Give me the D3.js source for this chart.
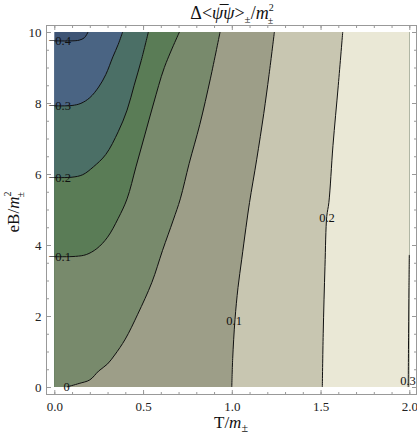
<!DOCTYPE html>
<html>
<head>
<meta charset="utf-8">
<script src="https://cdn.jsdelivr.net/npm/d3@7"></script>
<style>
  body { margin: 0; background: white; }
  text { font-family: "Liberation Serif", "DejaVu Serif", serif; }
</style>
</head>
<body>
<script>
let w = 417;
let h = 436;

// contour levels and the lines, as [T, eB]
let levels = [-0.4, -0.3, -0.2, -0.1, 0, 0.1, 0.2, 0.3];
let lineM04 = [[0, 9.75], [0.1, 9.75], [0.14, 9.77], [0.17, 9.84], [0.19, 10]];
let lineM03 = [[0, 7.92], [0.1, 7.93], [0.15, 7.99], [0.2, 8.15], [0.25, 8.45], [0.29, 8.8], [0.33, 9.3], [0.36, 9.65], [0.385, 10]];
let lineM02 = [[0, 5.9], [0.1, 5.91], [0.16, 5.98], [0.22, 6.2], [0.29, 6.55], [0.36, 7.19], [0.41, 7.8], [0.45, 8.5], [0.49, 9.2], [0.53, 10]];
let lineM01 = [[0, 3.67], [0.12, 3.68], [0.18, 3.73], [0.24, 3.9], [0.3, 4.22], [0.36, 4.75], [0.41, 5.3], [0.46, 6.2], [0.51, 7.1], [0.56, 8.0], [0.62, 9.0], [0.705, 10]];
let line00 = [[0.07, 0], [0.14, 0.1], [0.2, 0.2], [0.25, 0.45], [0.3, 0.65], [0.34, 0.9], [0.4, 1.35], [0.47, 2.05], [0.55, 2.95], [0.61, 3.85], [0.67, 4.7], [0.71, 5.3], [0.76, 6.3], [0.82, 7.4], [0.88, 8.7], [0.934, 10]];
let line01 = [[1.0, 0], [1.005, 0.8], [1.018, 1.9], [1.035, 2.8], [1.056, 3.6], [1.08, 4.5], [1.1, 5.2], [1.14, 6.4], [1.18, 7.7], [1.21, 8.8], [1.24, 10]];
let line02 = [[1.51, 0], [1.515, 1.5], [1.525, 3.4], [1.535, 4.8], [1.547, 5.2], [1.57, 6.8], [1.6, 8.5], [1.625, 10]];
let line03 = [[1.994, 0], [1.996, 1.5], [1.998, 2.8], [2.0, 3.72]];
let contourLines = [lineM04, lineM03, lineM02, lineM01, line00, line01, line02, line03];

let bandColors = ["#3e5475", "#4a6483", "#4b6f66", "#5a7c56", "#788a6c", "#9d9e88", "#c8c6b1", "#eae8d6", "#eeecdb"];

let labelText = ["\u22120.4", "\u22120.3", "\u22120.2", "\u22120.1", "0", "0.1", "0.2", "0.3"];
let labelT = [0.03, 0.03, 0.03, 0.03, 0.07, 1.013, 1.536, 1.993];
let labelEB = [9.75, 7.92, 5.9, 3.67, 0.0, 1.86, 4.77, 0.18];

let xTicks = [0, 0.5, 1, 1.5, 2];
let yTicks = [0, 2, 4, 6, 8, 10];

let svg = d3.select("body")
            .append("svg")
            .attr("width", w)
            .attr("height", h);

let xScale = d3.scaleLinear()
              .domain([0, 2])
              .range([54.3, 409.3]);

let yScale = d3.scaleLinear()
              .domain([0, 10])
              .range([387, 32]);

let frameL = 46.5, frameR = 416.5, frameT = 25.5, frameB = 394.5;

// bands: paint lowest colour, then each "above level" region on top
svg.append("rect")
    .attr("x", xScale(0))
    .attr("y", yScale(10))
    .attr("width", xScale(2) - xScale(0))
    .attr("height", yScale(0) - yScale(10))
    .style("fill", bandColors[0]);

let lineGen = d3.line()
    .x(d => xScale(d[0]))
    .y(d => yScale(d[1]))
    .curve(d3.curveCatmullRom);

function regionPath(pts) {
  let corners = [];
  let first = pts[0], last = pts[pts.length - 1];
  if (last[1] == 10) corners.push([2, 10]);
  corners.push([2, 0]);
  if (first[0] == 0) corners.push([0, 0]);
  return lineGen(pts) + corners.map(c => "L" + xScale(c[0]) + "," + yScale(c[1])).join("") + "Z";
}

svg.selectAll(".band")
    .data(contourLines)
    .enter()
    .append("path")
    .attr("class", "band")
    .attr("d", d => regionPath(d))
    .style("fill", (d, i) => bandColors[i + 1]);

svg.selectAll(".cline")
    .data(contourLines)
    .enter()
    .append("path")
    .attr("class", "cline")
    .attr("d", d => lineGen(d))
    .style("fill", "none")
    .style("stroke", "#111")
    .style("stroke-width", 1);

svg.selectAll(".clabel")
    .data(levels)
    .enter()
    .append("text")
    .attr("class", "clabel")
    .attr("x", (d, i) => xScale(labelT[i]))
    .attr("y", (d, i) => yScale(labelEB[i]) + 4)
    .attr("text-anchor", "middle")
    .style("font-size", "12.5px")
    .style("fill", "#111")
    .text((d, i) => labelText[i]);

// frame with inward ticks on all sides
svg.append("rect")
    .attr("x", frameL)
    .attr("y", frameT)
    .attr("width", frameR - frameL)
    .attr("height", frameB - frameT)
    .style("fill", "none")
    .style("stroke", "#999")
    .style("stroke-width", 1);

function drawTicks(axis, transform, showLabels) {
  let g = svg.append("g").attr("transform", transform).call(axis);
  g.select(".domain").remove();
  g.selectAll("line").style("stroke", "#999");
  if (!showLabels) g.selectAll("text").remove();
  return g;
}

let xMinor = d3.range(0, 2.001, 0.1);
let yMinor = d3.range(0, 10.001, 0.5);

drawTicks(d3.axisBottom(xScale).tickValues(xMinor).tickSize(-2.5), "translate(0," + frameB + ")", false);
drawTicks(d3.axisTop(xScale).tickValues(xMinor).tickSize(-2.5), "translate(0," + frameT + ")", false);
drawTicks(d3.axisTop(xScale).tickValues(xTicks).tickSize(-4.5), "translate(0," + frameT + ")", false);
let gx = drawTicks(d3.axisBottom(xScale).tickValues(xTicks).tickSize(-4.5).tickPadding(7).tickFormat(d3.format(".1f")), "translate(0," + frameB + ")", true);
gx.selectAll("text").style("font-size", "13px").style("fill", "#222");

drawTicks(d3.axisLeft(yScale).tickValues(yMinor).tickSize(-2.5), "translate(" + frameL + ",0)", false);
drawTicks(d3.axisRight(yScale).tickValues(yMinor).tickSize(-2.5), "translate(" + frameR + ",0)", false);
drawTicks(d3.axisRight(yScale).tickValues(yTicks).tickSize(-4.5), "translate(" + frameR + ",0)", false);
let gy = drawTicks(d3.axisLeft(yScale).tickValues(yTicks).tickSize(-4.5).tickPadding(5).tickFormat(d3.format("d")), "translate(" + frameL + ",0)", true);
gy.selectAll("text").style("font-size", "13px").style("fill", "#222");

// title
let title = svg.append("text")
    .attr("x", 232)
    .attr("y", 19)
    .attr("text-anchor", "middle")
    .style("font-size", "18px")
    .style("fill", "#111");
title.append("tspan").text("\u0394<");
title.append("tspan").style("font-style", "italic").text("\u03c8\u0305\u03c8");
title.append("tspan").text(">");
title.append("tspan").attr("dy", 4).style("font-size", "11px").text("\u00b1");
title.append("tspan").attr("dy", -4).text("/");
title.append("tspan").style("font-style", "italic").text("m");
title.append("tspan").attr("dy", -8).style("font-size", "10px").text("2");
title.append("tspan").attr("dx", -6).attr("dy", 13).style("font-size", "10px").text("\u00b1");

// x label
let xl = svg.append("text")
    .attr("x", 231)
    .attr("y", 428)
    .attr("text-anchor", "middle")
    .style("font-size", "17px")
    .style("fill", "#111");
xl.append("tspan").text("T/");
xl.append("tspan").style("font-style", "italic").text("m");
xl.append("tspan").attr("dy", 4).style("font-size", "12px").text("\u00b1");

// y label
let yl = svg.append("text")
    .attr("transform", "translate(19,212) rotate(-90)")
    .attr("text-anchor", "middle")
    .style("font-size", "17px")
    .style("fill", "#111");
yl.append("tspan").text("eB/");
yl.append("tspan").style("font-style", "italic").text("m");
yl.append("tspan").attr("dy", -8).style("font-size", "10px").text("2");
yl.append("tspan").attr("dx", -6).attr("dy", 13).style("font-size", "10px").text("\u00b1");
</script>
</body>
</html>
